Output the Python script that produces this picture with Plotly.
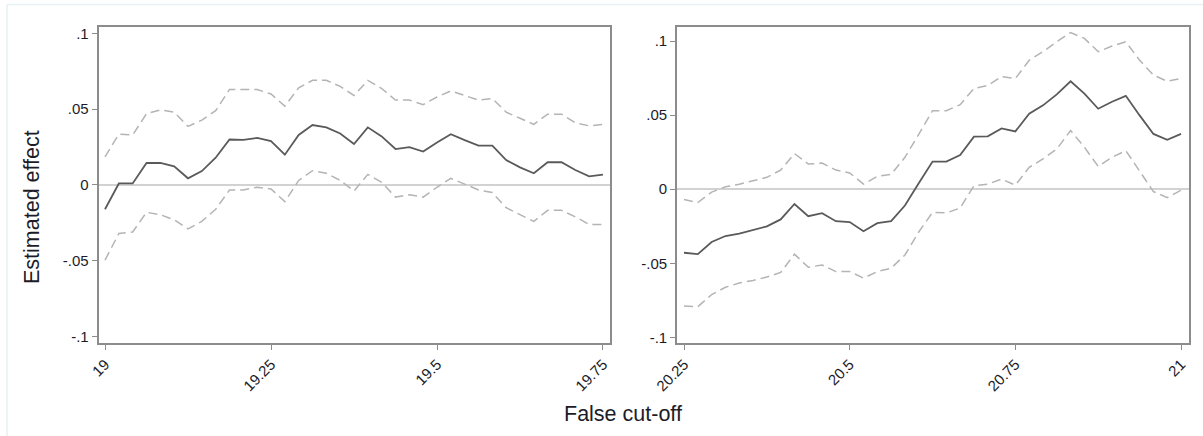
import plotly.graph_objects as go

# Placebo cut-offs: estimated effect with 95% confidence bands
left_x = [19 + i * 0.75 / 36 for i in range(37)]
left_est = [-0.016, 0.001, 0.001, 0.0145, 0.0145, 0.0123, 0.0044, 0.0092, 0.018, 0.030,
            0.0298, 0.031, 0.029, 0.020, 0.033, 0.0395, 0.038, 0.034, 0.027, 0.038,
            0.032, 0.0237, 0.025, 0.022, 0.028, 0.0335, 0.0296, 0.026, 0.026, 0.0164,
            0.0116, 0.0077, 0.015, 0.015, 0.0099, 0.0057, 0.0068]
left_hi = [0.0186, 0.0335, 0.033, 0.047, 0.0495, 0.048, 0.0386, 0.0428, 0.049, 0.063,
           0.063, 0.063, 0.060, 0.052, 0.064, 0.069, 0.069, 0.065, 0.059, 0.069,
           0.0636, 0.056, 0.056, 0.053, 0.058, 0.062, 0.059, 0.056, 0.057, 0.048,
           0.044, 0.040, 0.0467, 0.0467, 0.041, 0.039, 0.040]
left_lo = [-0.0496, -0.032, -0.031, -0.018, -0.0196, -0.023, -0.029, -0.024, -0.016, -0.0033,
           -0.0033, -0.0015, -0.0026, -0.011, 0.003, 0.0094, 0.0077, 0.003, -0.004, 0.007,
           0.0017, -0.008, -0.0064, -0.008, -0.0015, 0.0044, 0.0006, -0.0033, -0.005, -0.015,
           -0.0196, -0.024, -0.0167, -0.0167, -0.021, -0.026, -0.026]

right_x = [20.25 + i * 0.75 / 36 for i in range(37)]
right_est = [-0.0429, -0.0438, -0.0356, -0.0316, -0.030, -0.0278, -0.0251, -0.0204, -0.010, -0.0182,
             -0.0162, -0.0216, -0.0222, -0.0284, -0.0229, -0.0216, -0.011, 0.004, 0.0186, 0.0186,
             0.023, 0.0355, 0.0357, 0.041, 0.039, 0.051, 0.0566, 0.064, 0.0728, 0.0645,
             0.0543, 0.059, 0.063, 0.0498, 0.0373, 0.0333, 0.0373]
right_hi = [-0.007, -0.009, -0.002, 0.0016, 0.0034, 0.0057, 0.008, 0.0129, 0.024, 0.017,
            0.0176, 0.0129, 0.011, 0.0034, 0.0086, 0.010, 0.0215, 0.037, 0.053, 0.053,
            0.057, 0.068, 0.070, 0.076, 0.0747, 0.087, 0.0928, 0.0995, 0.1057, 0.1018,
            0.0928, 0.0966, 0.0995, 0.087, 0.077, 0.0728, 0.0747]
right_lo = [-0.0789, -0.0793, -0.0711, -0.0662, -0.0633, -0.0616, -0.0593, -0.0562, -0.0438, -0.0527,
            -0.0511, -0.0556, -0.0556, -0.060, -0.0556, -0.0533, -0.0444, -0.0289, -0.0156, -0.016,
            -0.0127, 0.0023, 0.0034, 0.0068, 0.0027, 0.0147, 0.0204, 0.0271, 0.0396, 0.0283,
            0.0154, 0.0215, 0.026, 0.0124, -0.0016, -0.0057, -0.0007]

y_tickvals = [-0.1, -0.05, 0, 0.05, 0.1]
y_ticktext = ["-.1", "-.05", "0", ".05", ".1"]
left_xticks = [19, 19.25, 19.5, 19.75]
left_xtext = ["19", "19.25", "19.5", "19.75"]
right_xticks = [20.25, 20.5, 20.75, 21]
right_xtext = ["20.25", "20.5", "20.75", "21"]

W, H = 1203, 436
FONT = "Liberation Sans, Arial, sans-serif"
EST_COLOR = "#5a5a5a"
CI_COLOR = "#b4b4b4"
FRAME = "#8c8c8c"
TXT = "#1c1c28"

fig = go.Figure()

panels = [
    ("x", "y", left_x, left_est, left_hi, left_lo),
    ("x2", "y2", right_x, right_est, right_hi, right_lo),
]
for xa, ya, xs, est, hi, lo in panels:
    for band in (hi, lo):
        fig.add_trace(go.Scatter(x=xs, y=band, xaxis=xa, yaxis=ya, mode="lines",
                                 line=dict(color=CI_COLOR, width=1.5, dash="9px,5px"),
                                 showlegend=False, hoverinfo="skip"))
    fig.add_trace(go.Scatter(x=xs, y=est, xaxis=xa, yaxis=ya, mode="lines",
                             line=dict(color=EST_COLOR, width=1.8),
                             showlegend=False))

def xaxis(domain, rng, vals, text, anchor):
    return dict(domain=domain, range=rng, tickvals=vals, ticktext=text, tickangle=-45,
                anchor=anchor, automargin=False,
                ticks="outside", ticklen=5, tickcolor=FRAME, tickwidth=1,
                showline=True, mirror=True, linecolor=FRAME, linewidth=1.6,
                showgrid=False, zeroline=False,
                tickfont=dict(family=FONT, size=15, color=TXT))

def yaxis(domain, rng, anchor):
    return dict(domain=domain, range=rng, tickvals=y_tickvals, ticktext=y_ticktext,
                anchor=anchor, automargin=False,
                ticks="outside", ticklen=5, tickcolor=FRAME, tickwidth=1,
                showline=True, mirror=True, linecolor=FRAME, linewidth=1.6,
                showgrid=False, zeroline=True, zerolinecolor="#d2d2d2", zerolinewidth=1.5,
                tickfont=dict(family=FONT, size=15, color=TXT))

y_dom = [1 - 343 / H, 1 - 26.5 / H]

fig.update_layout(
    width=W, height=H,
    margin=dict(l=0, r=0, t=0, b=0, autoexpand=False),
    paper_bgcolor="white", plot_bgcolor="white",
    xaxis=xaxis([98.5 / W, 609.5 / W], [18.9902, 19.7598], left_xticks, left_xtext, "y"),
    yaxis=yaxis(y_dom, [-0.1042, 0.1045], "x"),
    xaxis2=xaxis([677 / W, 1189 / W], [20.2394, 21.012], right_xticks, right_xtext, "y2"),
    yaxis2=yaxis(y_dom, [-0.1038, 0.1098], "x2"),
    annotations=[
        dict(text="Estimated effect", x=32 / W, y=1 - 207 / H, xref="paper", yref="paper",
             textangle=-90, showarrow=False, xanchor="center", yanchor="middle",
             font=dict(family=FONT, size=21.5, color=TXT)),
        dict(text="False cut-off", x=623 / W, y=1 - 414 / H, xref="paper", yref="paper",
             showarrow=False, xanchor="center", yanchor="middle",
             font=dict(family=FONT, size=21.5, color=TXT)),
    ],
    shapes=[
        dict(type="line", xref="paper", yref="paper", x0=7 / W, x1=1, y0=1 - 4.5 / H, y1=1 - 4.5 / H,
             line=dict(color="#e8f1f1", width=1.5)),
        dict(type="line", xref="paper", yref="paper", x0=7 / W, x1=7 / W, y0=0, y1=1 - 4.5 / H,
             line=dict(color="#e8f1f1", width=1.5)),
    ],
)

fig.write_html("out.html")
